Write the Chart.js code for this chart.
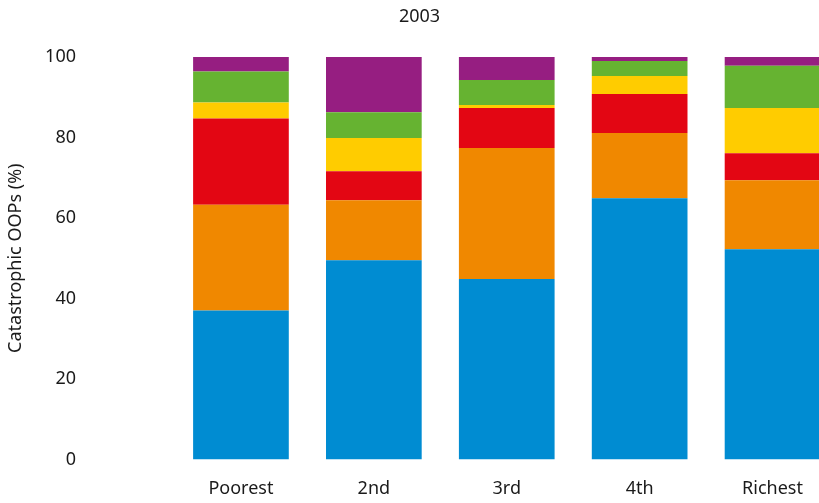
<!DOCTYPE html>
<html>
<head>
<meta charset="utf-8">
<script src="https://cdn.jsdelivr.net/npm/chart.js@4"></script>
<style>
  html, body { margin: 0; padding: 0; background: #fff; overflow: hidden; }
  canvas { display: block; }
</style>
</head>
<body>
<canvas id="myChart" width="860" height="503" style="width:860px;height:503px"></canvas>
<script>
// カテゴリ（所得五分位）
const quintiles = ["Poorest", "2nd", "3rd", "4th", "Richest"];

// 各系列の値（%）— 下から順に積み上げ
const blueVals = [37.0, 49.5, 44.8, 64.9, 52.2];
const orangeVals = [26.3, 14.9, 32.6, 16.2, 17.2];
const redVals = [21.4, 7.2, 9.9, 9.7, 6.7];
const yellowVals = [4.0, 8.3, 0.8, 4.5, 11.2];
const greenVals = [7.7, 6.4, 6.2, 3.7, 10.5];
const purpleVals = [3.6, 13.7, 5.7, 1.0, 2.2];

// 目盛り
const yTicks = [0, 20, 40, 60, 80, 100];

const fontFamily = "'Noto Sans', 'DejaVu Sans', sans-serif";

const makeSet = function (data, color) {
  return {
    data: data,
    backgroundColor: color,
    borderWidth: 0,
    barPercentage: 0.72,
    categoryPercentage: 1,
  };
};

const ctx = document.getElementById("myChart").getContext("2d");
const myChart = new Chart(ctx, {
  type: "bar",
  data: {
    labels: quintiles,
    datasets: [
      makeSet(blueVals, "#008cd2"),
      makeSet(orangeVals, "#f08800"),
      makeSet(redVals, "#e30613"),
      makeSet(yellowVals, "#ffcc00"),
      makeSet(greenVals, "#66b331"),
      makeSet(purpleVals, "#961e81"),
    ],
  },
  options: {
    responsive: false,
    animation: false,
    layout: { padding: { top: 0, right: 21, bottom: 3, left: 0 } },
    plugins: {
      legend: { display: false },
      tooltip: { enabled: false },
      title: {
        display: true,
        text: "2003",
        color: "#1a1a1a",
        font: { family: fontFamily, size: 18, weight: "normal" },
        padding: { top: 6, bottom: 29.4 },
      },
    },
    scales: {
      x: {
        stacked: true,
        // 高さを固定（ラベル余白の二重計上を防ぐ）
        afterFit: function (scale) {
          scale.height = 40.6;
          scale.paddingTop = 0;
          scale.paddingBottom = 0;
        },
        grid: { display: false, drawTicks: false },
        border: { display: false },
        ticks: {
          color: "#1a1a1a",
          padding: 19,
          font: { family: fontFamily, size: 18 },
        },
      },
      y: {
        stacked: true,
        min: 0,
        max: 100,
        afterBuildTicks: function (scale) {
          scale.ticks = yTicks.map(function (v) { return { value: v }; });
        },
        // 軸の幅を固定し、ラベル余白による上下パディングを消す
        afterFit: function (scale) {
          scale.width = 174.5;
          scale.paddingTop = 0;
          scale.paddingBottom = 0;
        },
        grid: { display: false, drawTicks: false, tickLength: 0 },
        border: { display: false },
        ticks: {
          color: "#1a1a1a",
          padding: 98.5,
          font: { family: fontFamily, size: 18 },
        },
        title: {
          display: true,
          text: "Catastrophic OOPs (%)",
          color: "#1a1a1a",
          font: { family: fontFamily, size: 18 },
          padding: { top: 5, bottom: 0 },
        },
      },
    },
  },
});
</script>
</body>
</html>
